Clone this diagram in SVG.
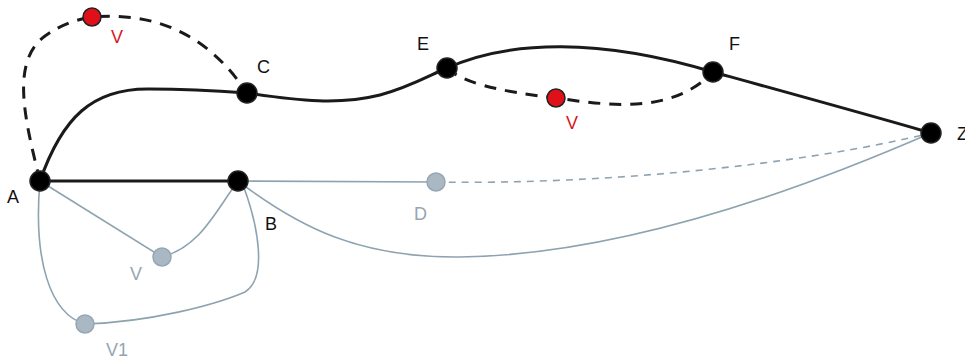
<svg xmlns="http://www.w3.org/2000/svg" width="965" height="361" viewBox="0 0 965 361">
  <style>
    .e-main { fill: none; stroke: #1a1a1a; stroke-width: 3; }
    .e-dash { fill: none; stroke: #1a1a1a; stroke-width: 3; stroke-dasharray: 12 9; }
    .e-gray { fill: none; stroke: #8ea3b0; stroke-width: 1.6; }
    .e-gray-dash { fill: none; stroke: #8ea3b0; stroke-width: 1.6; stroke-dasharray: 7 6; }
    .n-black { fill: #000; stroke: #222; stroke-width: 1.5; }
    .n-red { fill: #e0101a; stroke: #222; stroke-width: 1.5; }
    .n-gray { fill: #a9b8c3; stroke: #94a7b4; stroke-width: 1.5; }
    text { font-family: "Liberation Sans", Arial, sans-serif; font-size: 18px; }
    .t-black { fill: #111; }
    .t-red { fill: #d9141f; }
    .t-gray { fill: #95a5b2; }
  </style>

  <g id="connectors">
    <!-- light grey layer -->
    <path class="e-gray" d="M238,181 L436,182"/>
    <path class="e-gray-dash" d="M436,182 C600,185 800,165 931,133"/>
    <path class="e-gray" d="M238,181 C300,228 360,258 460,257 C620,255 800,190 931,133"/>
    <path class="e-gray" d="M40,181 L162,257"/>
    <path class="e-gray" d="M162,257 C200,247 215,212 238,181"/>
    <path class="e-gray" d="M40,181 C33,260 50,314 85,324"/>
    <path class="e-gray" d="M85,324 C150,322 215,305 245,292 C268,278 258,225 243,185"/>
    <!-- solid route -->
    <path class="e-main" d="M40,181 L238,181"/>
    <path class="e-main" d="M40,181 C62,118 92,88 150,89 C190,89 220,91 247,93"/>
    <path class="e-main" d="M247,93 C300,101 340,105 380,95 C410,87 430,75 447,68"/>
    <path class="e-main" d="M447,68 C510,40 600,38 713,72"/>
    <path class="e-main" d="M713,72 C800,96 880,118 931,133"/>
    <!-- dashed alternatives -->
    <path class="e-dash" d="M40,181 C25,120 10,62 45,36 C62,24 78,19 92,17 C150,12 205,30 247,93"/>
    <path class="e-dash" d="M447,68 C462,82 495,91 556,98 C612,106 672,114 713,72"/>
  </g>

  <g id="node-A"><circle class="n-black" cx="40" cy="181" r="10"/><text class="t-black" x="7" y="203">A</text></g>
  <g id="node-B"><circle class="n-black" cx="238" cy="181" r="10"/><text class="t-black" x="265" y="230">B</text></g>
  <g id="node-C"><circle class="n-black" cx="247" cy="93" r="10"/><text class="t-black" x="257" y="73">C</text></g>
  <g id="node-E"><circle class="n-black" cx="447" cy="68" r="10"/><text class="t-black" x="417" y="50">E</text></g>
  <g id="node-F"><circle class="n-black" cx="713" cy="72" r="10"/><text class="t-black" x="729" y="50">F</text></g>
  <g id="node-Z"><circle class="n-black" cx="931" cy="133" r="10"/><text class="t-black" x="957" y="140">Z</text></g>
  <g id="node-V-top"><circle class="n-red" cx="92" cy="17" r="9"/><text class="t-red" x="111" y="43">V</text></g>
  <g id="node-V-mid"><circle class="n-red" cx="556" cy="98" r="9"/><text class="t-red" x="566" y="129">V</text></g>
  <g id="node-D"><circle class="n-gray" cx="436" cy="182" r="9"/><text class="t-gray" x="414" y="220">D</text></g>
  <g id="node-V-low"><circle class="n-gray" cx="162" cy="257" r="9"/><text class="t-gray" x="130" y="280">V</text></g>
  <g id="node-V1"><circle class="n-gray" cx="85" cy="324" r="9"/><text class="t-gray" x="106" y="356">V1</text></g>
</svg>
